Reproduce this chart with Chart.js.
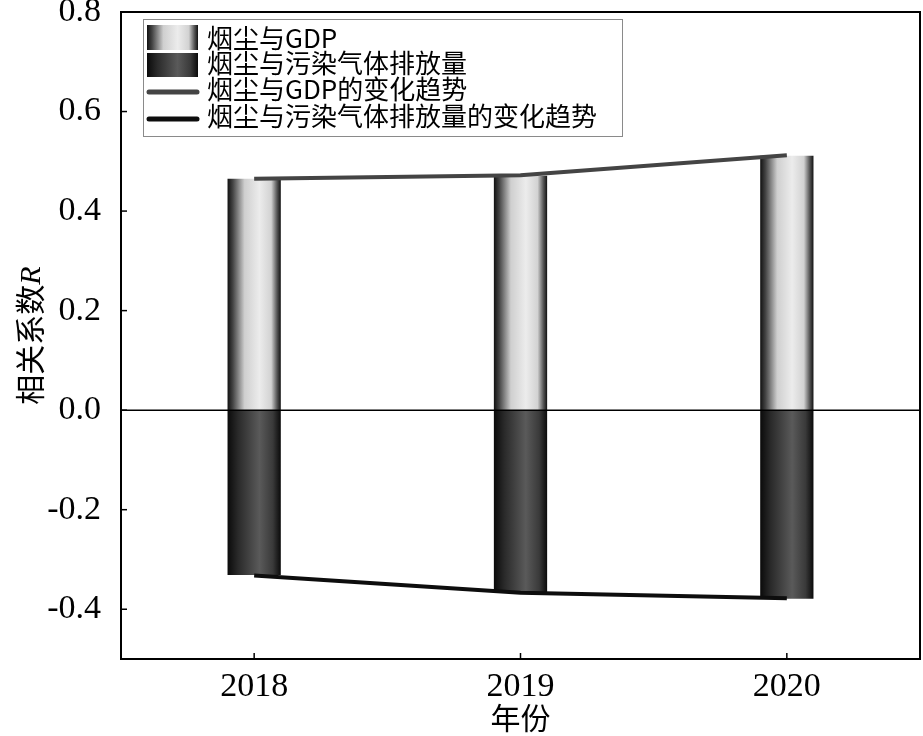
<!DOCTYPE html>
<html>
<head>
<meta charset="utf-8">
<script src="https://cdn.jsdelivr.net/npm/chart.js@4/dist/chart.umd.min.js"></script>
<style>
  html, body { margin: 0; padding: 0; background: #fff; }
  #wrap { width: 923px; height: 736px; }
</style>
</head>
<body>
<div id="wrap"><canvas id="chart" width="923" height="736"></canvas></div>
<script>
const years = ["2018", "2019", "2020"];
const gdpR = [0.465, 0.471, 0.511];
const gasR = [-0.331, -0.366, -0.379];
const gdpTrend = [0.465, 0.472, 0.512];
const gasTrend = [-0.332, -0.367, -0.378];
const yTicks = [0.8, 0.6, 0.4, 0.2, 0.0, -0.2, -0.4];

const serif = "'Liberation Serif', 'Noto Sans CJK SC', serif";
const cjk = "'Noto Sans CJK SC', 'Liberation Serif', sans-serif";

// cylinder-like shading across one bar
function cylinder(stops) {
  return c => {
    const chart = c.chart;
    const xs = chart.scales.x;
    if (!chart.chartArea || !xs) return stops[Math.floor(stops.length / 2)][1];
    const cx = xs.getPixelForValue(c.dataIndex);
    const w = (xs.width / years.length) * 0.2;
    const g = chart.ctx.createLinearGradient(cx - w / 2, 0, cx + w / 2, 0);
    stops.forEach(s => g.addColorStop(s[0], s[1]));
    return g;
  };
}
const lightStops = [[0, "#111"], [0.1, "#444"], [0.32, "#cfcfcf"], [0.6, "#ececec"], [0.82, "#d2d2d2"], [0.93, "#555"], [1, "#111"]];
const darkStops = [[0, "#0a0a0a"], [0.2, "#2a2a2a"], [0.6, "#5a5a5a"], [0.85, "#3a3a3a"], [1, "#0a0a0a"]];

function legendSwatch(ctx, x, y, w, h, stops) {
  const g = ctx.createLinearGradient(x, 0, x + w, 0);
  stops.forEach(s => g.addColorStop(s[0], s[1]));
  ctx.fillStyle = g;
  ctx.fillRect(x, y, w, h);
}

const framePlugin = {
  id: "frame",
  afterDatasetsDraw(chart) {
    const { ctx, chartArea: a, scales } = chart;
    ctx.save();
    // zero line
    const y0 = scales.y.getPixelForValue(0);
    ctx.strokeStyle = "#000";
    ctx.lineWidth = 1.5;
    ctx.beginPath(); ctx.moveTo(a.left, y0); ctx.lineTo(a.right, y0); ctx.stroke();
    // frame
    ctx.lineWidth = 2;
    ctx.strokeRect(a.left, a.top, a.right - a.left, a.bottom - a.top);
    // inward ticks
    ctx.lineWidth = 1.5;
    yTicks.forEach(v => {
      const y = scales.y.getPixelForValue(v);
      ctx.beginPath(); ctx.moveTo(a.left, y); ctx.lineTo(a.left + 6, y); ctx.stroke();
    });
    years.forEach((_, i) => {
      const x = scales.x.getPixelForValue(i);
      ctx.beginPath(); ctx.moveTo(x, a.bottom); ctx.lineTo(x, a.bottom - 6); ctx.stroke();
    });
    ctx.restore();
  },
  afterDraw(chart) {
    const { ctx, chartArea: a } = chart;
    ctx.save();
    // legend
    const lx = a.left + 22, ly = a.top + 7, lw = 479, lh = 117;
    ctx.fillStyle = "#fff";
    ctx.fillRect(lx, ly, lw, lh);
    ctx.strokeStyle = "#8a8a8a";
    ctx.lineWidth = 1;
    ctx.strokeRect(lx + 0.5, ly + 0.5, lw, lh);
    const ds = chart.data.datasets;
    const rowY = [ly + 19, ly + 44, ly + 70, ly + 97];
    legendSwatch(ctx, lx + 4, ly + 6, 51, 25, lightStops);
    legendSwatch(ctx, lx + 4, ly + 34, 51, 24, darkStops);
    ctx.lineCap = "round";
    ctx.lineWidth = 5;
    ctx.strokeStyle = ds[2].borderColor;
    ctx.beginPath(); ctx.moveTo(lx + 6, ly + 73); ctx.lineTo(lx + 54, ly + 73); ctx.stroke();
    ctx.strokeStyle = ds[3].borderColor;
    ctx.beginPath(); ctx.moveTo(lx + 6, ly + 100); ctx.lineTo(lx + 54, ly + 100); ctx.stroke();
    ctx.fillStyle = "#000";
    ctx.textBaseline = "middle";
    ctx.font = "26px " + cjk;
    ds.forEach((d, i) => ctx.fillText(d.label, lx + 64, rowY[i]));
    // y title with italic R
    ctx.translate(30, (a.top + a.bottom) / 2);
    ctx.rotate(-Math.PI / 2);
    const t1 = "相关系数";
    ctx.font = "30px " + cjk;
    const w1 = ctx.measureText(t1).width;
    ctx.font = "italic 30px 'Liberation Serif'";
    const w2 = ctx.measureText("R").width;
    const x = -(w1 + w2) / 2;
    ctx.textAlign = "left";
    ctx.font = "30px " + cjk;
    ctx.fillText(t1, x, 0);
    ctx.font = "italic 30px 'Liberation Serif'";
    ctx.fillText("R", x + w1, 2);
    ctx.restore();
  }
};

new Chart(document.getElementById("chart"), {
  data: {
    labels: years,
    datasets: [
      { type: "bar", label: "烟尘与GDP", data: gdpR, backgroundColor: cylinder(lightStops),
        grouped: false, barPercentage: 0.2, categoryPercentage: 1, order: 2 },
      { type: "bar", label: "烟尘与污染气体排放量", data: gasR, backgroundColor: cylinder(darkStops),
        grouped: false, barPercentage: 0.2, categoryPercentage: 1, order: 2 },
      { type: "line", label: "烟尘与GDP的变化趋势", data: gdpTrend, borderColor: "#444",
        borderWidth: 4, pointRadius: 0, tension: 0, order: 0 },
      { type: "line", label: "烟尘与污染气体排放量的变化趋势", data: gasTrend, borderColor: "#0d0d0d",
        borderWidth: 4, pointRadius: 0, tension: 0, order: 0 }
    ]
  },
  options: {
    responsive: false,
    animation: false,
    events: [],
    layout: { autoPadding: false, padding: { top: 12, right: 3, left: 0, bottom: 0 } },
    plugins: { legend: { display: false }, tooltip: { enabled: false } },
    scales: {
      x: {
        type: "category",
        offset: true,
        grid: { display: false },
        border: { display: false },
        ticks: { color: "#000", font: { family: serif, size: 34 }, padding: 0, maxRotation: 0 },
        title: { display: true, text: "年份", color: "#000", font: { family: cjk, size: 30 }, padding: { top: -8, bottom: 0 } },
        afterFit: s => { s.height = 77; s.paddingLeft = 0; s.paddingRight = 0; }
      },
      y: {
        min: -0.5,
        max: 0.8,
        afterBuildTicks: s => { s.ticks = yTicks.map(v => ({ value: v })); },
        grid: { display: false },
        border: { display: false },
        ticks: { color: "#000", font: { family: serif, size: 34 }, padding: 12,
          callback: v => v.toFixed(1) },
        afterFit: s => { s.width = 121; s.paddingTop = 0; s.paddingBottom = 0; }
      }
    }
  },
  plugins: [framePlugin]
});
</script>
</body>
</html>
